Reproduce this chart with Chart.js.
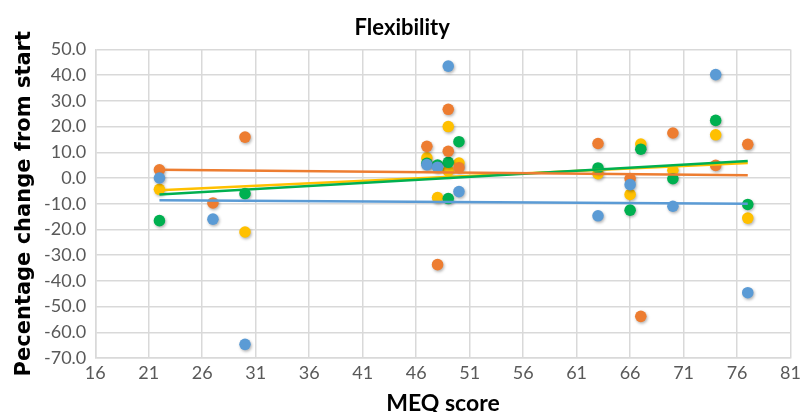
<!DOCTYPE html>
<html>
<head>
<meta charset="utf-8">
<script src="https://cdn.jsdelivr.net/npm/chart.js@4.4.1/dist/chart.umd.min.js"></script>
<style>
  html, body { margin: 0; padding: 0; background: #fff; }
  #wrap { width: 807px; height: 412px; }
</style>
</head>
<body>
<div id="wrap"><canvas id="flexChart"></canvas></div>
<script>
// MEQ score of each participant (x), and % change for each measure
const meqScores = [22, 27, 30, 47, 48, 49, 49, 50, 63, 66, 67, 70, 74, 77];
const blueValues   = [0, -16, -64.7, 5.2, 4.2, 43.5, null, -5.3, -14.7, -2.6, null, -11, 40.2, -44.6];
const orangeValues = [3.2, -9.7, 15.9, 12.3, -33.7, 26.7, 10.4, 4.0, 13.4, -0.2, -53.8, 17.5, 4.9, 13.1];
const greenValues  = [-16.6, null, -6.1, 5.7, 5.0, 6.1, -8.0, 14.1, 3.9, -12.5, 11.2, -0.3, 22.4, -10.3];
const yellowValues = [-4.4, null, -21, 7.8, -7.6, 20.0, 2.8, 5.8, 1.7, -6.4, 13.2, 3.0, 16.8, -15.6];

// linear trendlines, read at first and last MEQ score
const trendX      = [22, 77];
const blueTrend   = [-8.7, -10.0];
const orangeTrend = [3.2, 1.1];
const greenTrend  = [-6.4, 6.6];
const yellowTrend = [-4.8, 5.8];

const xTicks = [16, 21, 26, 31, 36, 41, 46, 51, 56, 61, 66, 71, 76, 81];
const yTicks = [-70, -60, -50, -40, -30, -20, -10, 0, 10, 20, 30, 40, 50];

const colors = {
  blue: "#5B9BD5",
  orange: "#ED7D31",
  green: "#00B050",
  yellow: "#FFC000"
};

function toPoints(xs, ys) {
  const pts = [];
  xs.forEach(function (x, i) {
    if (ys[i] !== null) pts.push({ x: x, y: ys[i] });
  });
  return pts;
}

function pointSet(label, values, color) {
  return {
    label: label,
    data: toPoints(meqScores, values),
    backgroundColor: color,
    borderColor: color,
    pointRadius: 5.8,
    pointHoverRadius: 5.8,
    borderWidth: 0,
    showLine: false,
    order: 2,
    isMarker: true
  };
}

function trendSet(label, values, color) {
  return {
    label: label,
    data: toPoints(trendX, values),
    borderColor: color,
    backgroundColor: color,
    borderWidth: 2.5,
    pointRadius: 0,
    showLine: true,
    order: 1
  };
}

// soft drop shadow under the markers, like the Excel original
const markerShadow = {
  id: "markerShadow",
  beforeDatasetDraw(chart, args) {
    if (!args.meta._dataset.isMarker) return;
    const c = chart.ctx;
    c.save();
    c.shadowColor = "rgba(0,0,0,0.3)";
    c.shadowBlur = 3;
    c.shadowOffsetX = 1;
    c.shadowOffsetY = 1.5;
  },
  afterDatasetDraw(chart, args) {
    if (!args.meta._dataset.isMarker) return;
    chart.ctx.restore();
  }
};

const gridColor = "#D9D9D9";
const tickColor = "#595959";

new Chart(document.getElementById("flexChart"), {
  type: "scatter",
  data: {
    datasets: [
      pointSet("Blue", blueValues, colors.blue),
      pointSet("Orange", orangeValues, colors.orange),
      pointSet("Green", greenValues, colors.green),
      pointSet("Yellow", yellowValues, colors.yellow),
      trendSet("Blue trend", blueTrend, colors.blue),
      trendSet("Orange trend", orangeTrend, colors.orange),
      trendSet("Green trend", greenTrend, colors.green),
      trendSet("Yellow trend", yellowTrend, colors.yellow)
    ]
  },
  plugins: [markerShadow],
  options: {
    responsive: true,
    maintainAspectRatio: false,
    animation: false,
    layout: { padding: { left: 6, right: 8.5, top: 15, bottom: 0 } },
    plugins: {
      legend: { display: false },
      tooltip: { enabled: false },
      title: {
        display: true,
        text: "Flexibility",
        color: "#000",
        font: { family: "Lato", size: 22, weight: "bold", lineHeight: 1.2 },
        padding: { top: 0, bottom: 8 }
      }
    },
    scales: {
      x: {
        type: "linear",
        min: 16,
        max: 81,
        afterBuildTicks: function (axis) {
          axis.ticks = xTicks.map(function (v) { return { value: v }; });
        },
        ticks: {
          color: tickColor,
          font: { family: "Lato", size: 18, lineHeight: 1 },
          maxRotation: 0,
          padding: 6
        },
        grid: { color: gridColor, lineWidth: 1.5, drawTicks: false },
        border: { color: gridColor, width: 1.5 },
        title: {
          display: true,
          text: "MEQ score",
          color: "#000",
          font: { family: "Lato", size: 23, weight: "bold", lineHeight: 1 },
          padding: { top: 4, bottom: -3 }
        }
      },
      y: {
        min: -70,
        max: 50,
        afterBuildTicks: function (axis) {
          axis.ticks = yTicks.map(function (v) { return { value: v }; });
        },
        ticks: {
          color: tickColor,
          font: { family: "Lato", size: 18 },
          padding: 9,
          callback: function (v) { return Number(v).toFixed(1); }
        },
        grid: { color: gridColor, lineWidth: 1.5, drawTicks: false },
        border: { color: gridColor, width: 1.5 },
        title: {
          display: true,
          text: "Pecentage change from start",
          color: "#000",
          font: { family: "DejaVu Sans", size: 21, weight: "bold", lineHeight: 1 },
          padding: { top: 8, bottom: 0 }
        }
      }
    }
  }
});
</script>
</body>
</html>
